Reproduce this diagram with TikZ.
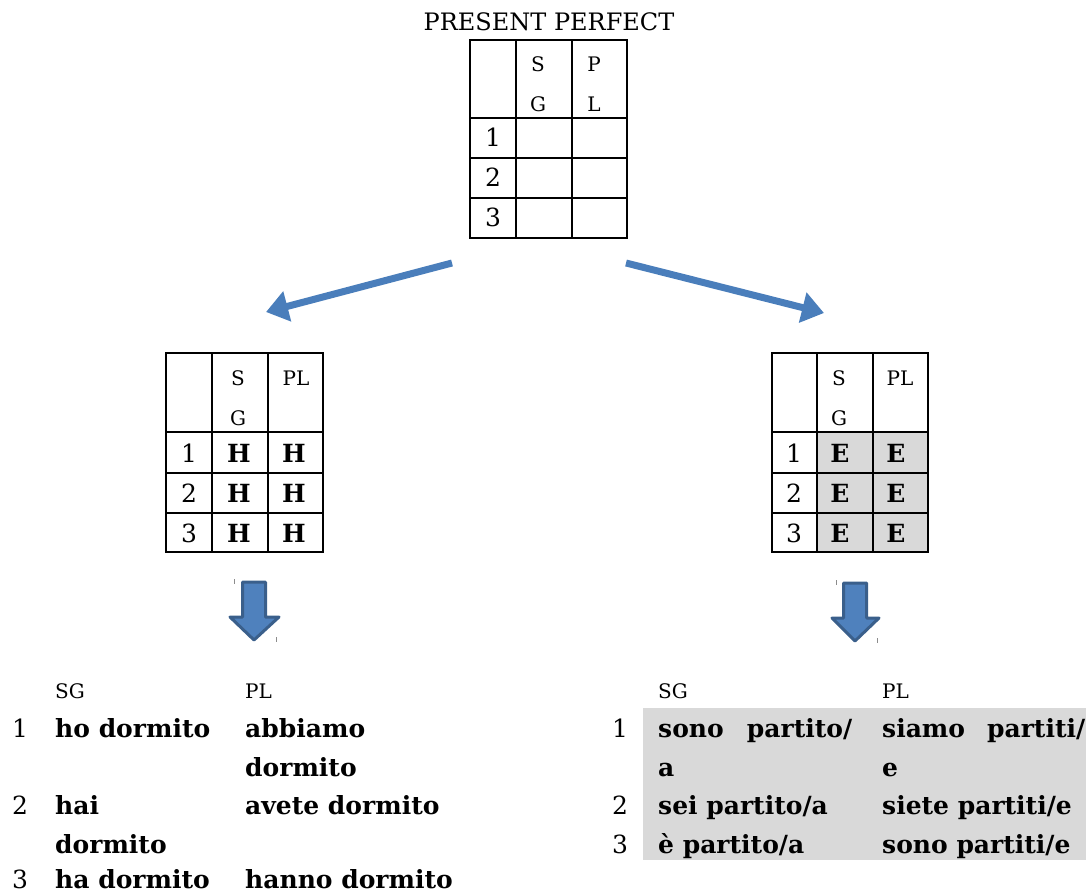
\documentclass[tikz,border=0pt]{standalone}
\usepackage{fontspec}
\setmainfont{DejaVu Serif}
\usetikzlibrary{arrows.meta}
\definecolor{arrowblue}{HTML}{4A7EBB}
\definecolor{blockfill}{HTML}{4F81BD}
\definecolor{blockedge}{HTML}{3A5F8B}
\definecolor{cellgray}{HTML}{D9D9D9}
\tikzset{
  txttitle/.style={font=\fontsize{24}{29}\selectfont, inner sep=0pt},
  txtbig/.style={font=\fontsize{25}{30}\selectfont, inner sep=0pt},
  txtbold/.style={font=\fontsize{25}{30}\selectfont\bfseries, inner sep=0pt},
  txtsmall/.style={font=\fontsize{20}{24}\selectfont, inner sep=0pt},
  gridline/.style={line width=1.3pt, black},
  thinarrow/.style={line width=7pt, arrowblue, -{Triangle[length=22pt,width=30pt]}},
  blockarrow/.style={fill=blockfill, draw=blockedge, line width=3pt, line join=round},
  tickmark/.style={black!45, line width=0.8pt},
}
\begin{document}
\begin{tikzpicture}[x=1pt,y=-1pt]
\useasboundingbox (0,0) rectangle (1092,893);

% title
\node[txttitle, anchor=base] (title) at (549,31) {PRESENT PERFECT};

% top table
\draw[gridline] (470,40) rectangle (627,238);
\draw[gridline] (516,40) -- (516,238) (572,40) -- (572,238)
  (470,118) -- (627,118) (470,158) -- (627,158) (470,198) -- (627,198);
\node[txtsmall, anchor=base] (tS) at (538,72) {S};
\node[txtsmall, anchor=base] (tG) at (538,112) {G};
\node[txtsmall, anchor=base] (tP) at (594,72) {P};
\node[txtsmall, anchor=base] (tL) at (594,112) {L};
\node[txtbig, anchor=base] (t1) at (493,147) {1};
\node[txtbig, anchor=base] (t2) at (493,187) {2};
\node[txtbig, anchor=base] (t3) at (493,227) {3};

% arrows
\coordinate (aLs) at (452,263);
\coordinate (aLe) at (266,312);
\coordinate (aRs) at (626,263);
\coordinate (aRe) at (824,313);
\draw[thinarrow] (aLs) -- (aLe);
\draw[thinarrow] (aRs) -- (aRe);

% left table
\draw[gridline] (166,353) rectangle (323,552);
\draw[gridline] (212,353) -- (212,552) (268,353) -- (268,552)
  (166,432) -- (323,432) (166,473) -- (323,473) (166,513) -- (323,513);
\node[txtsmall, anchor=base] (lS) at (238,385) {S};
\node[txtsmall, anchor=base] (lG) at (238,425) {G};
\node[txtsmall, anchor=base] (lPL) at (296,385) {PL};
\node[txtbig, anchor=base] (l1) at (189,462) {1};
\node[txtbig, anchor=base] (l2) at (189,502) {2};
\node[txtbig, anchor=base] (l3) at (189,542) {3};
\node[txtbold, anchor=base] (lH1a) at (239,462) {H};
\node[txtbold, anchor=base] (lH1b) at (294,462) {H};
\node[txtbold, anchor=base] (lH2a) at (239,502) {H};
\node[txtbold, anchor=base] (lH2b) at (294,502) {H};
\node[txtbold, anchor=base] (lH3a) at (239,542) {H};
\node[txtbold, anchor=base] (lH3b) at (294,542) {H};

% right table
\fill[cellgray] (817,432) rectangle (928,552);
\draw[gridline] (772,353) rectangle (928,552);
\draw[gridline] (817,353) -- (817,552) (873,353) -- (873,552)
  (772,432) -- (928,432) (772,473) -- (928,473) (772,513) -- (928,513);
\node[txtsmall, anchor=base] (rS) at (839,385) {S};
\node[txtsmall, anchor=base] (rG) at (839,425) {G};
\node[txtsmall, anchor=base] (rPL) at (900,385) {PL};
\node[txtbig, anchor=base] (r1) at (794,462) {1};
\node[txtbig, anchor=base] (r2) at (794,502) {2};
\node[txtbig, anchor=base] (r3) at (794,542) {3};
\node[txtbold, anchor=base] (rE1a) at (840,462) {E};
\node[txtbold, anchor=base] (rE1b) at (896,462) {E};
\node[txtbold, anchor=base] (rE2a) at (840,502) {E};
\node[txtbold, anchor=base] (rE2b) at (896,502) {E};
\node[txtbold, anchor=base] (rE3a) at (840,542) {E};
\node[txtbold, anchor=base] (rE3b) at (896,542) {E};

% block arrows
\draw[blockarrow] (242.5,582) -- (265.5,582) -- (265.5,617) -- (279,617)
  -- (254,640) -- (230,617) -- (242.5,617) -- cycle;
\draw[blockarrow] (843.5,583) -- (866.5,583) -- (866.5,618) -- (879,618)
  -- (855,641) -- (832,618) -- (843.5,618) -- cycle;
\draw[tickmark] (234,579) -- (234,584) (276,637) -- (276,642);
\draw[tickmark] (836,580) -- (836,585) (877,638) -- (877,643);

% bottom left
\node[txtsmall, anchor=base west] (bSG) at (55,698) {SG};
\node[txtsmall, anchor=base west] (bPL) at (245,698) {PL};
\node[txtbig, anchor=base] (b1) at (20,737) {1};
\node[txtbold, anchor=base west] (b1s) at (55,737) {ho dormito};
\node[txtbold, anchor=base west] (b1p) at (245,737) {abbiamo};
\node[txtbold, anchor=base west] (b1p2) at (245,776) {dormito};
\node[txtbig, anchor=base] (b2) at (20,814) {2};
\node[txtbold, anchor=base west] (b2s) at (55,814) {hai};
\node[txtbold, anchor=base west] (b2s2) at (55,853) {dormito};
\node[txtbold, anchor=base west] (b2p) at (245,814) {avete dormito};
\node[txtbig, anchor=base] (b3) at (20,888) {3};
\node[txtbold, anchor=base west] (b3s) at (55,888) {ha dormito};
\node[txtbold, anchor=base west] (b3p) at (245,888) {hanno dormito};

% bottom right
\fill[cellgray] (643,708) rectangle (1086,860);
\node[txtsmall, anchor=base west] (cSG) at (658,698) {SG};
\node[txtsmall, anchor=base west] (cPL) at (882,698) {PL};
\node[txtbig, anchor=base] (c1) at (620,737) {1};
\node[txtbold, anchor=base west] (c1s) at (658,737) {\hbox to 194pt{sono\hfil partito/}};
\node[txtbold, anchor=base west] (c1s2) at (658,776) {a};
\node[txtbold, anchor=base west] (c1p) at (882,737) {\hbox to 203pt{siamo\hfil partiti/}};
\node[txtbold, anchor=base west] (c1p2) at (882,776) {e};
\node[txtbig, anchor=base] (c2) at (620,814) {2};
\node[txtbold, anchor=base west] (c2s) at (658,814) {sei partito/a};
\node[txtbold, anchor=base west] (c2p) at (882,814) {siete partiti/e};
\node[txtbig, anchor=base] (c3) at (620,853) {3};
\node[txtbold, anchor=base west] (c3s) at (658,853) {è partito/a};
\node[txtbold, anchor=base west] (c3p) at (882,853) {sono partiti/e};
\end{tikzpicture}
\end{document}
